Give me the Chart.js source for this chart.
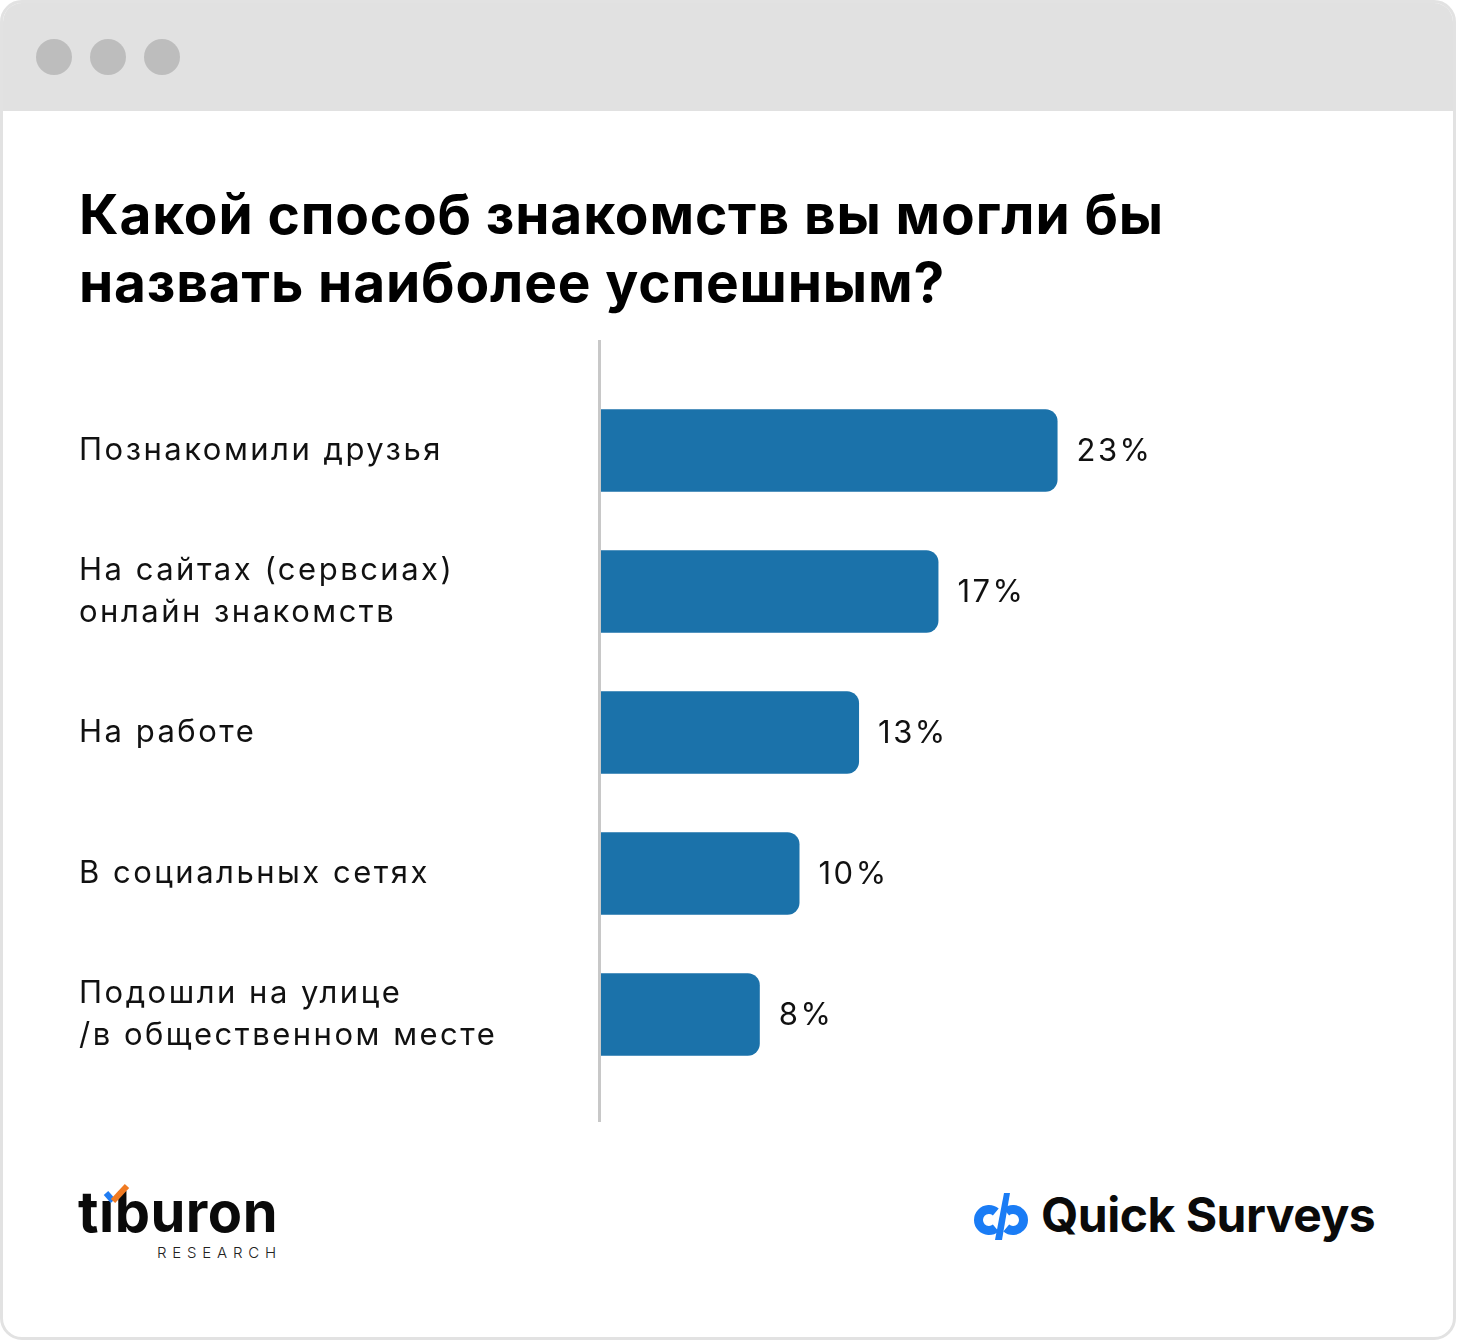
<!DOCTYPE html>
<html>
<head>
<meta charset="utf-8">
<script src="https://cdn.jsdelivr.net/npm/chart.js@4.4.1/dist/chart.umd.min.js"></script>
<style>
    html, body { margin: 0; padding: 0; background: #fff; }
    body { width: 1457px; height: 1341px; position: relative; overflow: hidden; font-family: Inter, sans-serif; }
    .card { position: absolute; left: 0; top: 0; width: 1456px; height: 1340px; box-sizing: border-box;
            border: 3px solid #e2e2e2; border-radius: 22px; overflow: hidden; background: #fff; }
    .bar-top { position: absolute; left: 0; top: 0; right: 0; height: 108px; background: #e1e1e1; }
    .dot { position: absolute; top: 36px; width: 36px; height: 36px; border-radius: 50%; background: #bdbdbd; }
    .title { position: absolute; left: 79px; top: 180px; margin: 0; font-size: 55px; line-height: 68px;
             font-weight: 700; color: #000; letter-spacing: 0.85px; }
    .chart-box { position: absolute; left: 79px; top: 340px; width: 1316px; height: 782px; }
    .tiburon { position: absolute; left: 78px; top: 1178px; font-size: 56px; font-weight: 700; letter-spacing: 0.5px; color: #0a0a0a; }
    .research { position: absolute; left: 157px; top: 1243px; font-size: 15px; font-weight: 300; letter-spacing: 5.8px; color: #222; }
    .tick { position: absolute; left: 0; top: 0; }
    .qs-text { position: absolute; left: 1041px; top: 1185px; font-size: 48px; font-weight: 700; letter-spacing: -0.5px; color: #0a0a0a; }
    .qs-icon { position: absolute; left: 970px; top: 1190px; }
</style>
</head>
<body>
<div class="card">
    <div class="bar-top">
        <div class="dot" style="left:33px"></div>
        <div class="dot" style="left:87px"></div>
        <div class="dot" style="left:141px"></div>
    </div>
</div>

<h1 class="title">Какой способ знакомств вы могли бы<br>назвать наиболее успешным?</h1>

<div class="chart-box"><canvas id="answersChart"></canvas></div>

<div class="tiburon">tıburon</div>
<svg class="tick" width="140" height="1210" style="pointer-events:none">
    <line x1="106" y1="1193" x2="113" y2="1201" stroke="#1f7cf2" stroke-width="6"/>
    <line x1="113" y1="1201" x2="127" y2="1186" stroke="#f07a22" stroke-width="6"/>
</svg>
<div class="research">RESEARCH</div>

<svg class="qs-icon" width="62" height="54" viewBox="0 0 62 54">
    <path d="M25.8 22 A10.5 10.5 0 1 0 25.8 38" fill="none" stroke="#1a7cf5" stroke-width="9"/>
    <path d="M36.2 22 A10.5 10.5 0 1 1 36.2 38" fill="none" stroke="#1a7cf5" stroke-width="9"/>
    <polygon points="34,3 40,3 32,50 25,50" fill="#1a7cf5"/>
</svg>
<div class="qs-text">Quick Surveys</div>

<script>
// Survey answers, share of respondents in percent
const categories = [
    'Познакомили друзья',
    ['На сайтах (сервсиах)', 'онлайн знакомств'],
    'На работе',
    'В социальных сетях',
    ['Подошли на улице', '/в общественном месте']
];
const values = [23, 17, 13, 10, 8];

const barColor = '#1b72aa';

// Wider text spacing for all canvas labels
const spacing = {
    id: 'spacing',
    beforeDraw(chart) {
        chart.ctx.letterSpacing = '2.5px';
    }
};

// Grey vertical line on the left of the bars, full height of the canvas
const axisLine = {
    id: 'axisLine',
    beforeDatasetsDraw(chart) {
        const { ctx, chartArea } = chart;
        ctx.save();
        ctx.strokeStyle = '#c8c8c8';
        ctx.lineWidth = 3;
        ctx.beginPath();
        ctx.moveTo(chartArea.left - 1.5, 0);
        ctx.lineTo(chartArea.left - 1.5, chart.height);
        ctx.stroke();
        ctx.restore();
    }
};

// Percent labels at the end of each bar
const valueLabels = {
    id: 'valueLabels',
    afterDatasetsDraw(chart) {
        const { ctx } = chart;
        const meta = chart.getDatasetMeta(0);
        ctx.save();
        ctx.font = '400 31px Inter';
        ctx.letterSpacing = '2.5px';
        ctx.fillStyle = '#111';
        ctx.textBaseline = 'middle';
        ctx.textAlign = 'left';
        meta.data.forEach((bar, i) => {
            ctx.fillText(values[i] + '%', bar.x + 19, bar.y + 1);
        });
        ctx.restore();
    }
};

new Chart(document.getElementById('answersChart'), {
    type: 'bar',
    data: {
        labels: categories,
        datasets: [{
            data: values,
            backgroundColor: barColor,
            borderRadius: 12,
            borderSkipped: 'start',
            categoryPercentage: 1,
            barPercentage: 0.585
        }]
    },
    options: {
        indexAxis: 'y',
        responsive: true,
        maintainAspectRatio: false,
        animation: false,
        layout: {
            padding: { top: 40, bottom: 37, left: 0, right: 0 }
        },
        scales: {
            x: {
                display: false,
                min: 0,
                max: 40
            },
            y: {
                grid: { display: false },
                border: { display: false },
                ticks: {
                    crossAlign: 'far',
                    color: '#111',
                    font: { family: 'Inter', size: 31, weight: '400', lineHeight: 1.36 }
                },
                afterFit(scale) {
                    scale.width = 522;
                    scale.paddingTop = 0;
                    scale.paddingBottom = 0;
                }
            }
        },
        plugins: {
            legend: { display: false },
            tooltip: { enabled: false }
        }
    },
    plugins: [spacing, axisLine, valueLabels]
});
</script>
</body>
</html>
